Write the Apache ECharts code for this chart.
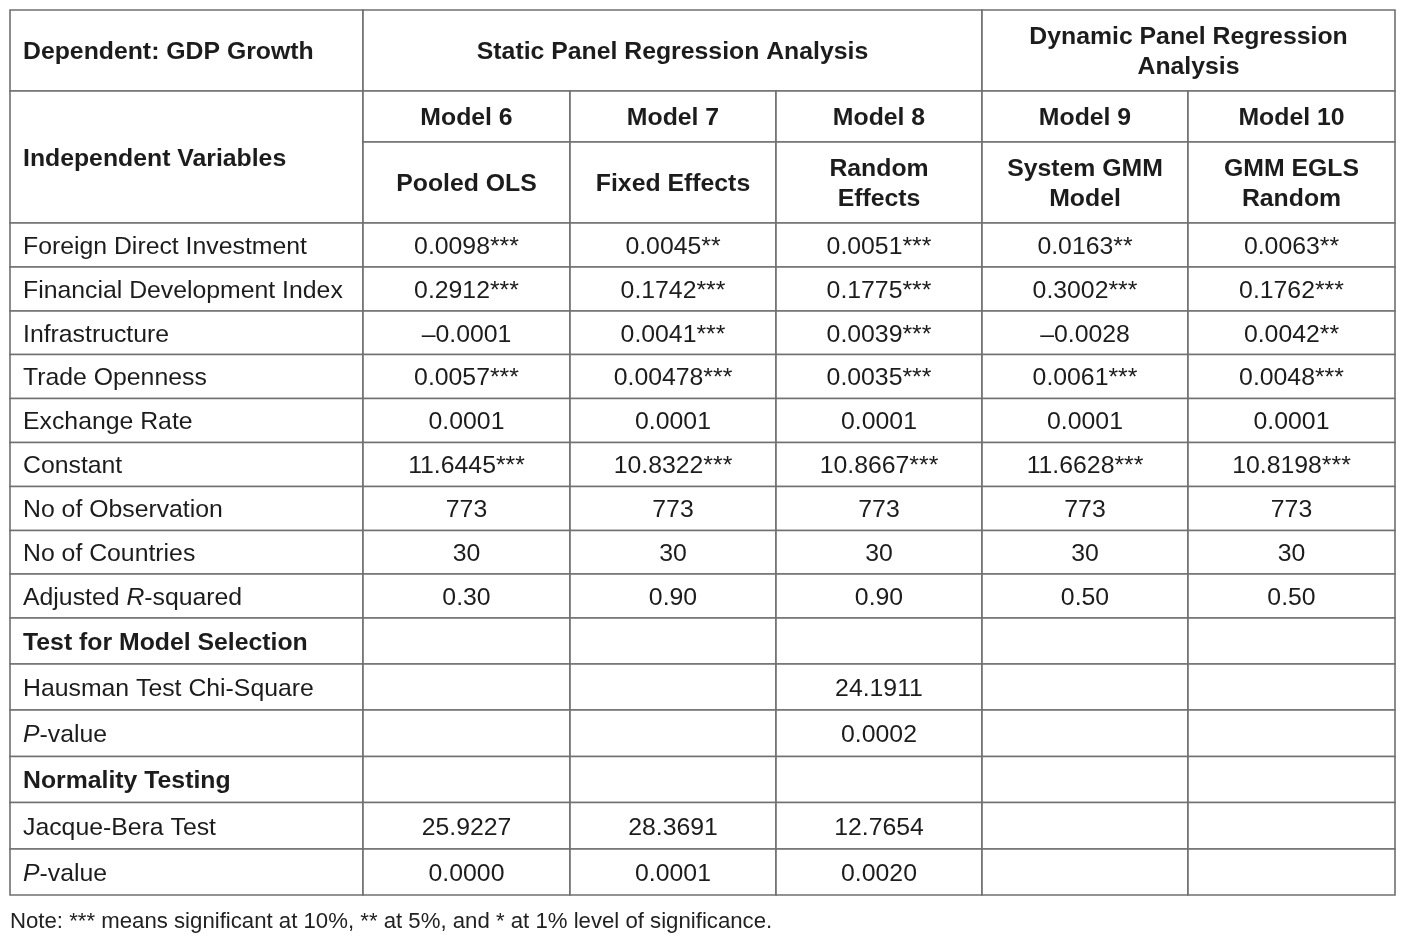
<!DOCTYPE html>
<html>
<head>
<meta charset="utf-8">
<script src="https://cdn.jsdelivr.net/npm/echarts@6/dist/echarts.min.js"></script>
<style>
html,body{margin:0;padding:0;background:#fff;}
#chart{width:1415px;height:940px;}
</style>
</head>
<body>
<div id="chart"></div>
<script>
// ---------- data ----------
var cornerTop = 'Dependent: GDP Growth';
var cornerBottom = 'Independent Variables';
var groupTitles = ['Static Panel Regression Analysis', 'Dynamic Panel Regression\nAnalysis'];
var groupSpans = [3, 2];
var modelNames = ['Model 6', 'Model 7', 'Model 8', 'Model 9', 'Model 10'];
var modelTypes = ['Pooled OLS', 'Fixed Effects', 'Random\nEffects', 'System GMM\nModel', 'GMM EGLS\nRandom'];
var rowLabels = [
  'Foreign Direct Investment', 'Financial Development Index', 'Infrastructure', 'Trade Openness',
  'Exchange Rate', 'Constant', 'No of Observation', 'No of Countries', 'Adjusted {i|R}-squared',
  '{b|Test for Model Selection}', 'Hausman Test Chi-Square', '{i|P}-value',
  '{b|Normality Testing}', 'Jacque-Bera Test', '{i|P}-value'
];
var model6  = ['0.0098***', '0.2912***', '\u20130.0001', '0.0057***', '0.0001', '11.6445***', '773', '30', '0.30', '', '', '', '', '25.9227', '0.0000'];
var model7  = ['0.0045**', '0.1742***', '0.0041***', '0.00478***', '0.0001', '10.8322***', '773', '30', '0.90', '', '', '', '', '28.3691', '0.0001'];
var model8  = ['0.0051***', '0.1775***', '0.0039***', '0.0035***', '0.0001', '10.8667***', '773', '30', '0.90', '', '24.1911', '0.0002', '', '12.7654', '0.0020'];
var model9  = ['0.0163**', '0.3002***', '\u20130.0028', '0.0061***', '0.0001', '11.6628***', '773', '30', '0.50', '', '', '', '', '', ''];
var model10 = ['0.0063**', '0.1762***', '0.0042**', '0.0048***', '0.0001', '10.8198***', '773', '30', '0.50', '', '', '', '', '', ''];
var noteText = 'Note: *** means significant at 10%, ** at 5%, and * at 1% level of significance.';

// ---------- layout (style) ----------
var colEdges = [0, 353, 560, 766, 972, 1178, 1385];
var headerEdges = [0, 81, 132, 213];
var bodyRowHeights = [44, 44, 43.5, 44, 44, 44, 44, 43.5, 44, 46, 46, 46.5, 46, 46.5, 46];
var FONT = 'Arial';
var FS = 24.8;
var LINE = '#707070';
var TXT = '#1c1c1c';

var models = [model6, model7, model8, model9, model10];
var rowEdges = headerEdges.slice();
bodyRowHeights.forEach(function (h) { rowEdges.push(rowEdges[rowEdges.length - 1] + h); });
var totalH = rowEdges[rowEdges.length - 1];

var cells = [];
function addCell(c0, c1, r0, r1, text, align, bold) {
  cells.push({ x0: colEdges[c0], x1: colEdges[c1], y0: rowEdges[r0], y1: rowEdges[r1], text: text, align: align, bold: bold });
}
addCell(0, 1, 0, 1, cornerTop, 'left', true);
addCell(0, 1, 1, 3, cornerBottom, 'left', true);
var c = 1;
groupTitles.forEach(function (g, i) { addCell(c, c + groupSpans[i], 0, 1, g, 'center', true); c += groupSpans[i]; });
modelNames.forEach(function (m, i) { addCell(i + 1, i + 2, 1, 2, m, 'center', true); });
modelTypes.forEach(function (m, i) { addCell(i + 1, i + 2, 2, 3, m, 'center', true); });
rowLabels.forEach(function (lab, r) {
  addCell(0, 1, r + 3, r + 4, lab, 'left', false);
  models.forEach(function (mv, i) { addCell(i + 1, i + 2, r + 3, r + 4, mv[r], 'center', false); });
});

var chart = echarts.init(document.getElementById('chart'), null, { renderer: 'canvas' });
chart.setOption({
  animation: false,
  backgroundColor: '#ffffff',
  title: {
    text: noteText, left: 5, top: 906,
    textStyle: { fontFamily: FONT, fontSize: 22.2, fontWeight: 'normal', color: '#222' }
  },
  grid: { left: 10, top: 10, width: colEdges[colEdges.length - 1], height: totalH },
  xAxis: { type: 'value', min: 0, max: colEdges[colEdges.length - 1], show: false },
  yAxis: { type: 'value', min: 0, max: totalH, inverse: true, show: false },
  series: [{
    type: 'custom',
    silent: true,
    data: cells.map(function (d) { return [d.x0, d.x1, d.y0, d.y1]; }),
    encode: { x: [0, 1], y: [2, 3] },
    renderItem: function (params, api) {
      var d = cells[params.dataIndex];
      var p0 = api.coord([api.value(0), api.value(2)]);
      var p1 = api.coord([api.value(1), api.value(3)]);
      var w = p1[0] - p0[0], h = p1[1] - p0[1];
      var weight = d.bold ? 'bold' : 'normal';
      return {
        type: 'group',
        children: [{
          type: 'rect',
          shape: { x: p0[0], y: p0[1], width: w, height: h },
          style: { fill: '#ffffff', stroke: LINE, lineWidth: 1.6 }
        }, {
          type: 'text',
          x: d.align === 'left' ? p0[0] + 13 : p0[0] + w / 2,
          y: p0[1] + h / 2 + 2,
          style: {
            text: d.text,
            textAlign: d.align,
            textVerticalAlign: 'middle',
            fontFamily: FONT,
            fontSize: FS,
            fontWeight: weight,
            lineHeight: 30,
            fill: TXT,
            rich: {
              i: { fontFamily: FONT, fontSize: FS, fontStyle: 'italic', fontWeight: weight, fill: TXT, lineHeight: 30 },
              b: { fontFamily: FONT, fontSize: FS, fontWeight: 'bold', fill: TXT, lineHeight: 30 }
            }
          }
        }]
      };
    }
  }]
});
</script>
</body>
</html>
